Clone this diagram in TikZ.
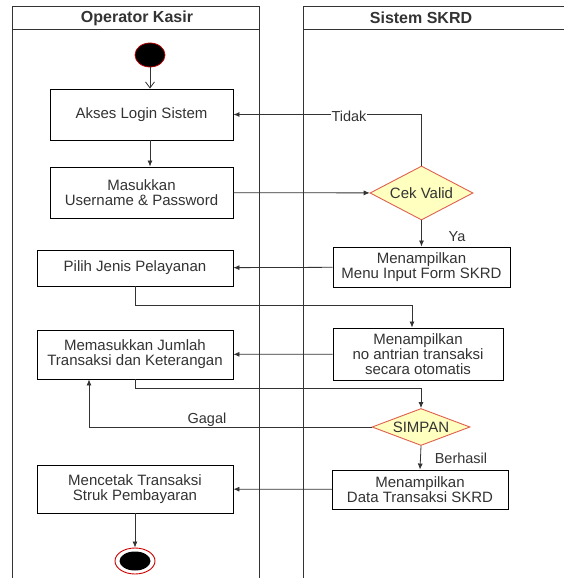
\documentclass[tikz,border=0pt]{standalone}
\usepackage{fontspec}
\setmainfont{Liberation Sans}
\usetikzlibrary{shapes.geometric,arrows.meta}
\definecolor{txt}{HTML}{333333}
\definecolor{dfill}{HTML}{FFFFC0}
\definecolor{dline}{HTML}{E06050}
\tikzset{
  act/.style={draw=black, line width=0.9pt, fill=white, align=center, text=txt, font=\fontsize{15}{15}\selectfont, inner sep=0pt},
  dec/.style={diamond, draw=dline, line width=0.9pt, fill=dfill, text=txt, font=\fontsize{15}{15}\selectfont, inner sep=0pt, aspect=2},
  flow/.style={draw=black!80, line width=0.8pt, -{Latex[length=6pt,width=5pt]}},
  lane/.style={draw=black!80, line width=0.9pt},
  lbl/.style={text=txt, font=\fontsize{14.5}{15}\selectfont},
  hdr/.style={text=txt, font=\fontsize{16}{16}\selectfont\bfseries},
}
\begin{document}
\begin{tikzpicture}[x=1pt,y=-1pt]
\useasboundingbox (0,0) rectangle (564,578);
\fill[white] (0,0) rectangle (564,578);
% lanes
\draw[lane] (12,580) -- (12,6) -- (259,6) -- (259,580);
\draw[lane] (12,29) -- (259,29);
\draw[lane] (303,580) -- (303,6) -- (566,6);
\draw[lane] (303,29) -- (566,29);
\node[hdr] (h1) at (137,18) {Operator Kasir};
\node[hdr] (h2) at (421,18) {Sistem SKRD};
% start
\node[ellipse, draw=red!70!black, fill=black, minimum width=30pt, minimum height=24pt, inner sep=0pt, line width=0.8pt] (start) at (150,55) {};
% activities
\node[act, minimum width=183pt, minimum height=51pt] (akses) at (141.5,114.5) {Akses Login Sistem};
\node[act, minimum width=183pt, minimum height=51pt] (masuk) at (141.5,192.5) {Masukkan\\Username \& Password};
\node[dec, minimum width=103pt, minimum height=54pt] (cek) at (421.5,193) {Cek Valid};
\node[act, minimum width=177pt, minimum height=40pt] (menu) at (421.5,267) {Menampilkan\\Menu Input Form SKRD};
\node[act, minimum width=196pt, minimum height=36pt] (pilih) at (135,268) {Pilih Jenis Pelayanan};
\node[act, minimum width=170pt, minimum height=52pt] (antri) at (418,354) {Menampilkan\\no antrian transaksi\\secara otomatis};
\node[act, minimum width=196pt, minimum height=49pt] (jumlah) at (135,354.5) {Memasukkan Jumlah\\Transaksi dan Keterangan};
\node[dec, minimum width=98pt, minimum height=37pt, aspect=2.6] (simpan) at (421,427) {SIMPAN};
\node[act, minimum width=176pt, minimum height=39pt] (data) at (420,489.5) {Menampilkan\\Data Transaksi SKRD};
\node[act, minimum width=196pt, minimum height=48pt] (cetak) at (135,489) {Mencetak Transaksi\\Struk Pembayaran};
% end
\node[ellipse, draw=red!80!black, fill=white, minimum width=40pt, minimum height=26pt, inner sep=0pt, line width=0.9pt] (endo) at (135,561) {};
\node[ellipse, fill=black, minimum width=31pt, minimum height=19pt, inner sep=0pt] (endi) at (135,561) {};
% connectors
\draw[draw=black!80, line width=0.8pt, -{Straight Barb[length=6pt,width=9pt]}] (start) -- (start.south |- akses.north);
\draw[flow] (akses.south -| 150,0) -- (masuk.north -| 150,0);
\draw[flow] (masuk) -- (cek);
\draw[flow] (cek.north) |- (akses.east);
\node[lbl, fill=white, inner sep=1pt] (tidak) at (349,116) {Tidak};
\draw[flow] (cek.south) -- (menu.north);
\node[lbl] (ya) at (457,237) {Ya};
\draw[flow] (menu) -- (pilih);
\coordinate (p1) at (135,305);
\draw[flow] (pilih.south) -- (p1) -| (412,0 |- antri.north);
\draw[flow] (antri) -- (jumlah);
\coordinate (p2) at (135,388);
\draw[flow] (jumlah.south) -- (p2) -| (simpan.north);
\draw[flow] (simpan.west) -| (89,0 |- jumlah.south);
\node[lbl] (gagal) at (207,420) {Gagal};
\draw[flow] (simpan.south) -- (data.north);
\node[lbl] (berhasil) at (461,458) {Berhasil};
\draw[flow] (data) -- (cetak);
\draw[flow] (cetak.south) -- (endo.north);
\end{tikzpicture}
\end{document}
